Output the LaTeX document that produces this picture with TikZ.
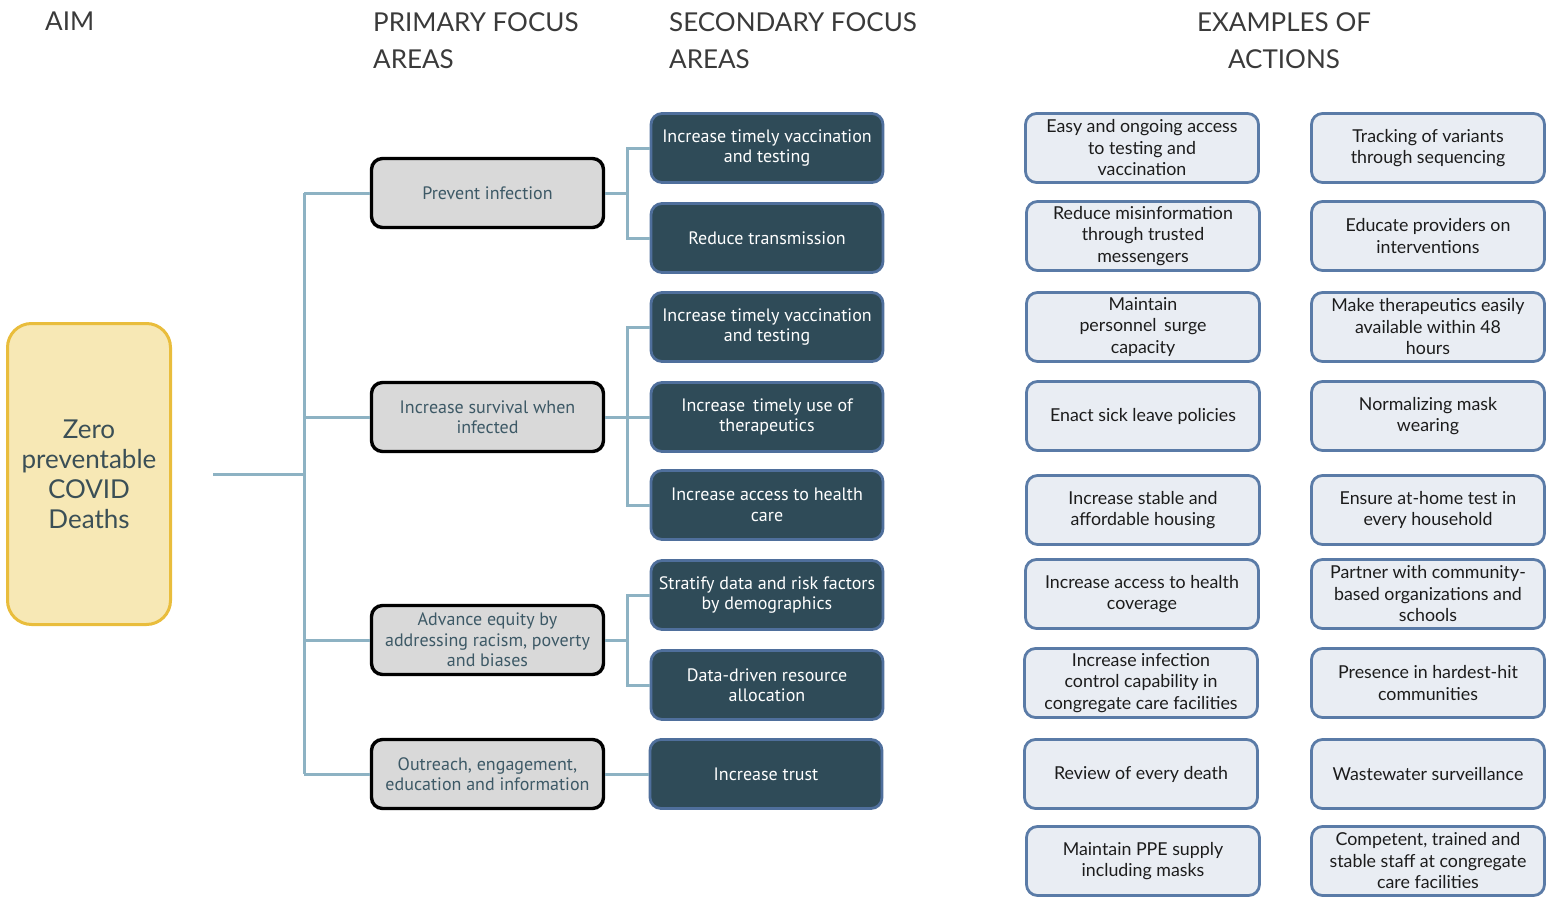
\documentclass[tikz,border=0pt]{standalone}
\usepackage{fontspec}
\setmainfont{Lato}
\newfontfamily\dinfont{PT Sans}
\usetikzlibrary{positioning}

\definecolor{aimfill}{HTML}{F7E8B5}
\definecolor{aimline}{HTML}{E9BD3C}
\definecolor{aimtext}{HTML}{3B4F56}
\definecolor{primfill}{HTML}{D9D9D9}
\definecolor{primtext}{HTML}{3D5966}
\definecolor{secfill}{HTML}{2F4B58}
\definecolor{secline}{HTML}{4F6F9C}
\definecolor{actfill}{HTML}{E9EDF3}
\definecolor{actline}{HTML}{5A7BA7}
\definecolor{acttext}{HTML}{1C1C1C}
\definecolor{linkcol}{HTML}{8DB2C3}
\definecolor{headtext}{HTML}{3A3A3A}

\begin{document}
\begin{tikzpicture}[x=1pt, y=-1pt,
  header/.style={text=headtext, inner sep=0pt, font=\fontsize{26}{37}\selectfont},
  aimbox/.style={draw=aimline, fill=aimfill, line width=3pt, rounded corners=24pt,
    minimum width=163pt, minimum height=301pt, align=center, text=aimtext,
    font=\fontsize{26}{30}\selectfont},
  primary/.style={draw=black, fill=primfill, line width=3.4pt, rounded corners=11pt,
    minimum width=232pt, minimum height=69pt, inner sep=0pt, align=center, text=primtext,
    font=\dinfont\fontsize{18}{20.5}\selectfont},
  secondary/.style={draw=secline, fill=secfill, line width=2.8pt, rounded corners=11pt,
    minimum width=232pt, minimum height=69pt, inner sep=0pt, align=center, text=white,
    font=\dinfont\fontsize{18}{20.5}\selectfont},
  action/.style={draw=actline, fill=actfill, line width=2.8pt, rounded corners=11pt,
    minimum width=233pt, minimum height=69pt, inner sep=0pt, align=center, text=acttext,
    font=\fontsize{17.8}{21.5}\selectfont},
  link/.style={draw=linkcol, line width=3pt}]
  \useasboundingbox (0,0) rectangle (1547,899);

  % column headers
  \node[header, anchor=north west] (haim) at (45,12) {AIM};
  \node[header, anchor=north west, align=left] (hprim) at (373,12) {PRIMARY FOCUS\\AREAS};
  \node[header, anchor=north west, align=left] (hsec) at (669,12) {SECONDARY FOCUS\\AREAS};
  \node[header, anchor=north, align=center] (hact) at (1284,12) {EXAMPLES OF\\ACTIONS};

  % aim
  \node[aimbox] (aim) at (89,474) {Zero\\preventable\\COVID\\Deaths};

  % primary focus areas
  \node[primary] (p1) at (487.5,193) {Prevent infection};
  \node[primary] (p2) at (487.5,417) {Increase survival when\\infected};
  \node[primary] (p3) at (487.5,640) {Advance equity by\\addressing racism, poverty\\and biases};
  \node[primary] (p4) at (487.5,774) {Outreach, engagement,\\education and information};

  % secondary focus areas
  \node[secondary] (s1) at (767,148) {Increase timely vaccination\\and testing};
  \node[secondary] (s2) at (767,238) {Reduce transmission};
  \node[secondary] (s3) at (767,327) {Increase timely vaccination\\and testing};
  \node[secondary] (s4) at (767,417) {Increase\, timely use of\\therapeutics};
  \node[secondary] (s5) at (767,505) {Increase access to health\\care};
  \node[secondary] (s6) at (767,595) {Stratify data and risk factors\\by demographics};
  \node[secondary] (s7) at (767,685) {Data-driven resource\\allocation};
  \node[secondary] (s8) at (766,774) {Increase trust};

  % examples of actions, left column
  \node[action] (a1) at (1142,148) {Easy and ongoing access\\to testing and\\vaccination};
  \node[action] (a2) at (1143,236) {Reduce misinformation\\through trusted\\messengers};
  \node[action] (a3) at (1143,327) {Maintain\\personnel\, surge\\capacity};
  \node[action] (a4) at (1143,416) {Enact sick leave policies};
  \node[action] (a5) at (1143,510) {Increase stable and\\affordable housing};
  \node[action] (a6) at (1142,594) {Increase access to health\\coverage};
  \node[action] (a7) at (1141,683) {Increase infection\\control capability in\\congregate care facilities};
  \node[action] (a8) at (1141,774) {Review of every death};
  \node[action] (a9) at (1143,861) {Maintain PPE supply\\including masks};
  % examples of actions, right column
  \node[action] (b1) at (1428,148) {Tracking of variants\\through sequencing};
  \node[action] (b2) at (1428,236) {Educate providers on\\interventions};
  \node[action] (b3) at (1428,327) {Make therapeutics easily\\available within 48\\hours};
  \node[action] (b4) at (1428,416) {Normalizing mask\\wearing};
  \node[action] (b5) at (1428,510) {Ensure at-home test in\\every household};
  \node[action] (b6) at (1428,594) {Partner with community-\\based organizations and\\schools};
  \node[action] (b7) at (1428,683) {Presence in hardest-hit\\communities};
  \node[action] (b8) at (1428,774) {Wastewater surveillance};
  \node[action] (b9) at (1428,861) {Competent, trained and\\stable staff at congregate\\care facilities};

  % aim to primary areas
  \coordinate (trunk) at (304,0);
  \coordinate (aimend) at ([xshift=41pt]aim.east);
  \draw[link] (aimend) -- (aim.east -| trunk);
  \draw[link] (p1.west -| trunk) -- (p4.west -| trunk);
  \draw[link] (p1.west -| trunk) -- (p1.west);
  \draw[link] (p2.west -| trunk) -- (p2.west);
  \draw[link] (p3.west -| trunk) -- (p3.west);
  \draw[link] (p4.west -| trunk) -- (p4.west);

  % primary to secondary areas
  \coordinate (bus) at ([xshift=-22pt]s1.west);
  \draw[link] (s1.west) -- (s1.west -| bus) -- (s2.west -| bus) -- (s2.west);
  \draw[link] (p1.east) -- (p1.east -| bus);
  \draw[link] (s3.west) -- (s3.west -| bus) -- (s5.west -| bus) -- (s5.west);
  \draw[link] (p2.east) -- (s4.west);
  \draw[link] (s6.west) -- (s6.west -| bus) -- (s7.west -| bus) -- (s7.west);
  \draw[link] (p3.east) -- (p3.east -| bus);
  \draw[link] (p4.east) -- (s8.west);
\end{tikzpicture}
\end{document}
